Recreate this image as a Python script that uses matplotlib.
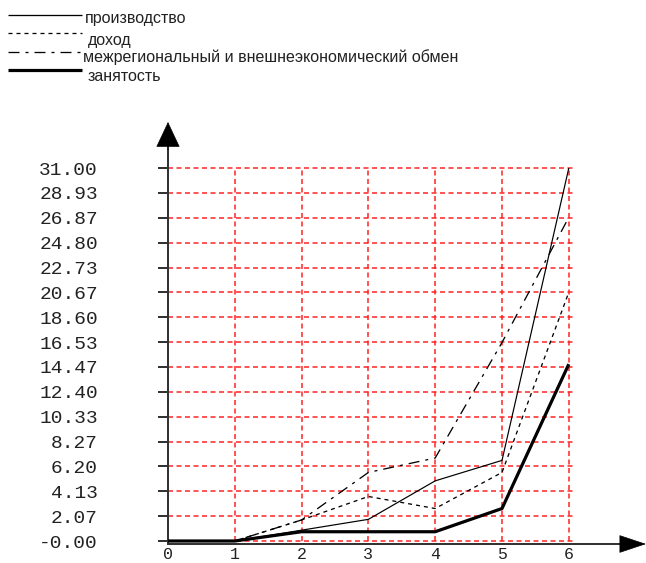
import matplotlib
matplotlib.use("Agg")
import matplotlib.pyplot as plt
from matplotlib.lines import Line2D

plt.rcParams['lines.scale_dashes'] = False

# ---- data ----
x_cats = [0, 1, 2, 3, 4, 5, 6]
x_labels = ["0", "1", "2", "3", "4", "5", "6"]
proizvodstvo = [0, 0, 0.9, 1.8, 5.0, 6.7, 31.0]
dohod = [0, 0, 1.75, 3.7, 2.7, 5.7, 20.67]
mezhreg = [0, 0, 1.75, 5.7, 6.9, 16.5, 26.9]
zanyatost = [0, 0, 0.77, 0.77, 0.77, 2.7, 14.7]
series_names = ["производство", "доход",
                "межрегиональный и внешнеэкономический обмен", "занятость"]
y_ticks = [0.0, 2.07, 4.13, 6.20, 8.27, 10.33, 12.40, 14.47, 16.53,
           18.60, 20.67, 22.73, 24.80, 26.87, 28.93, 31.00]
y_tick_labels = ["-0.00", "2.07", "4.13", "6.20", "8.27", "10.33", "12.40",
                 "14.47", "16.53", "18.60", "20.67", "22.73", "24.80",
                 "26.87", "28.93", "31.00"]

W, H = 646, 563
PX = 72 / 100.0  # points per pixel
fig = plt.figure(figsize=(W / 100, H / 100), dpi=100)
ax = fig.add_axes([0, 0, 1, 1])
xu, yu = 66.8, 12.03  # pixels per data unit
x0px, y0px = 168, 541
ax.set_xlim(-x0px / xu, (W - x0px) / xu)
ax.set_ylim(-(H - y0px) / yu, y0px / yu)

axis_col = '#333333'
# grid
ax.hlines(y_ticks, 0, 6.08, colors='#ff2020', linestyles=(0, (5 * PX, 3.5 * PX)),
          linewidth=1.5 * PX, zorder=1)
ax.vlines(x_cats[1:], 0, y_ticks[-1], colors='#ff2020',
          linestyles=(0, (5 * PX, 3.5 * PX)), linewidth=1.5 * PX, zorder=1)

# series
styles = [
    dict(color='black', lw=1.0 * PX * 1.2, ls='-'),
    dict(color='black', lw=1.0 * PX * 1.3, ls=(0, (4 * PX, 4 * PX))),
    dict(color='black', lw=1.0 * PX * 1.3, ls=(0, (11 * PX, 6 * PX, 3 * PX, 6 * PX))),
    dict(color='black', lw=3.2 * PX, ls='-'),
]
data = [proizvodstvo, dohod, mezhreg, zanyatost]
for d, st in zip(data, styles):
    ax.plot(x_cats, d, color=st['color'], linewidth=st['lw'], linestyle=st['ls'],
            zorder=3, solid_capstyle='butt')

# axes
axis_y = -3 / yu
for s in ['top', 'right']:
    ax.spines[s].set_visible(False)
ax.spines['left'].set_position(('data', 0))
ax.spines['bottom'].set_position(('data', axis_y))
ax.spines['left'].set_bounds(axis_y, (y0px - 140) / yu)
ax.spines['bottom'].set_bounds(0, (628 - x0px) / xu)
for s in ['left', 'bottom']:
    ax.spines[s].set_color(axis_col)
    ax.spines[s].set_linewidth(2 * PX)

# arrow heads
ax.annotate('', xy=(0, (y0px - 122) / yu), xytext=(0, (y0px - 150) / yu),
            arrowprops=dict(arrowstyle='-|>,head_length=1.7,head_width=0.8',
                            mutation_scale=10, color='black', lw=0.5,
                            shrinkA=0, shrinkB=0))
ax.annotate('', xy=((646 - x0px) / xu, axis_y), xytext=((620 - x0px) / xu, axis_y),
            arrowprops=dict(arrowstyle='-|>,head_length=1.8,head_width=0.6',
                            mutation_scale=10, color='black', lw=0.5,
                            shrinkA=0, shrinkB=0))

mono = 'Liberation Mono'
ax.set_yticks(y_ticks)
ax.set_yticklabels(y_tick_labels, fontfamily=mono, fontsize=14, color='#222222')
ax.tick_params(axis='y', direction='out', length=10 * PX, width=2 * PX,
               color=axis_col, pad=60 * PX)
ax.set_xticks(x_cats)
ax.set_xticklabels(x_labels, fontfamily=mono, fontsize=12, color='#222222')
ax.tick_params(axis='x', length=0, pad=3 * PX)

# legend (manual, top-left)
line_y = [15, 33, 52, 70]
text_y = [19, 40, 57, 77]
text_x = [85, 88, 83, 88]
for name, st, ly, ty, tx in zip(series_names, styles, line_y, text_y, text_x):
    fig.add_artist(Line2D([8 / W, 82 / W], [1 - ly / H, 1 - ly / H],
                          transform=fig.transFigure, color='black',
                          linewidth=st['lw'] if st['lw'] > 2 else 1.3 * PX,
                          linestyle=st['ls'], solid_capstyle='butt'))
    fig.text(tx / W, 1 - ty / H, name, fontfamily='Liberation Sans', fontsize=11.5,
             color='#222222', va='center', ha='left')

fig.savefig('out.png', dpi=100)
